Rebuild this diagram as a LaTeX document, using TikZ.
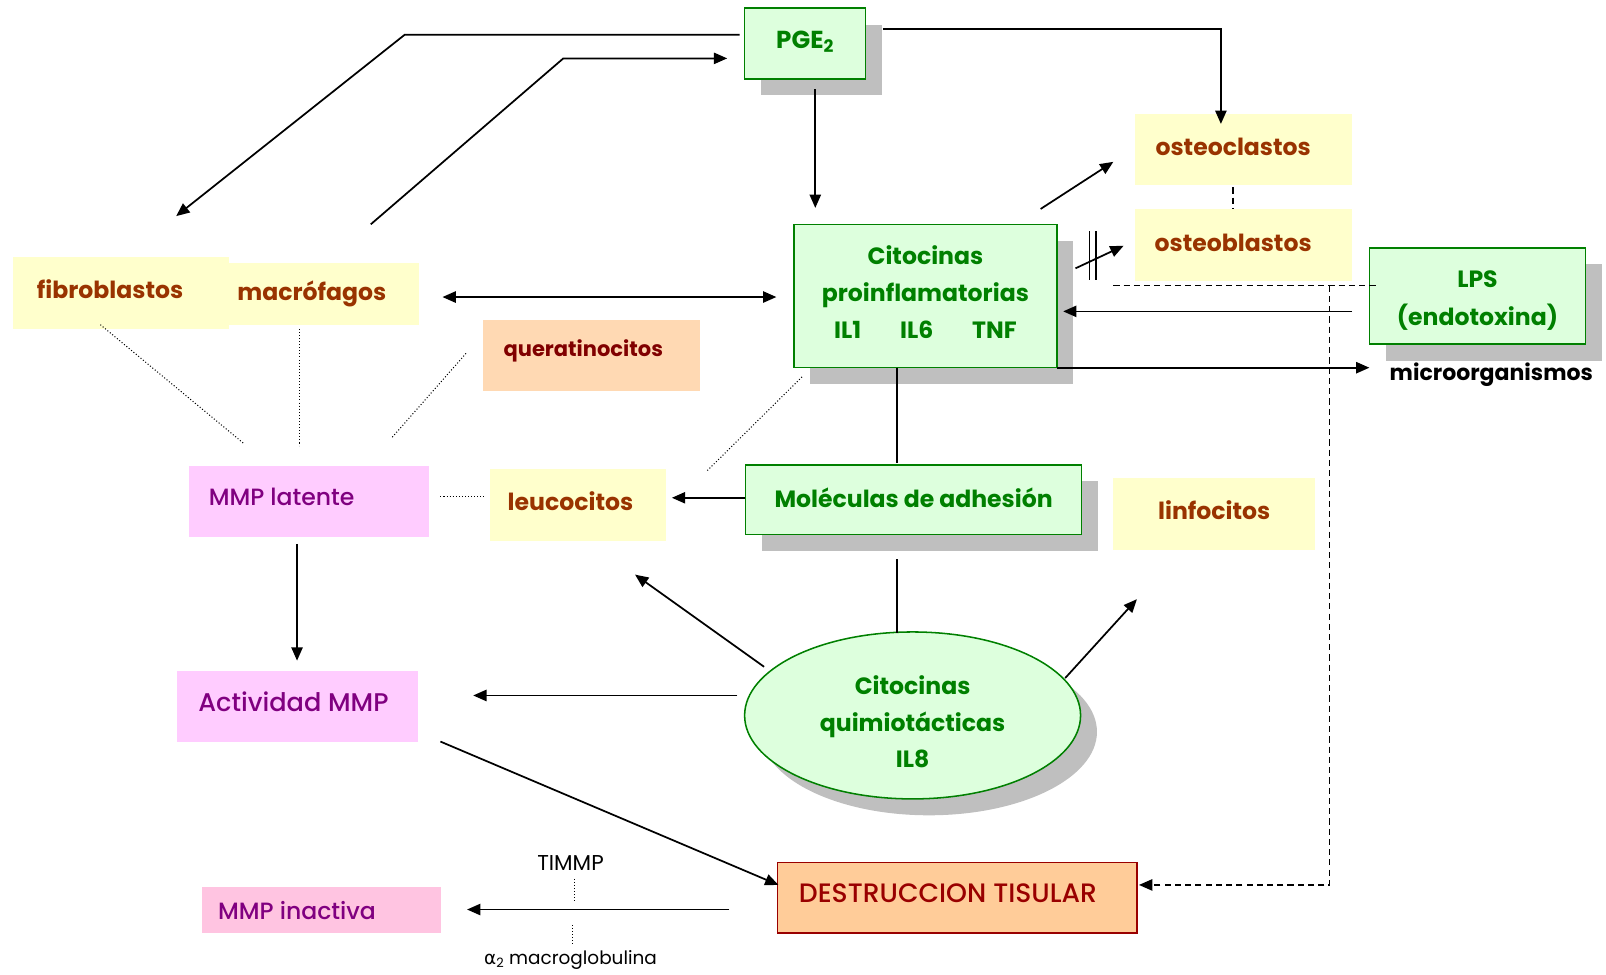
\documentclass[tikz,border=0pt]{standalone}
\usepackage{fontspec}
\setmainfont{Poppins}
\newfontfamily\medfont{Poppins Medium}
\newfontfamily\greekfont{DejaVu Sans}
\usetikzlibrary{arrows.meta,shapes.geometric,shadows}

% move a label up (or down) inside its box without changing the box size
\newcommand\liftby[2]{\raisebox{#1}[\height][\depth]{#2}}

\definecolor{gfill}{HTML}{DDFFDD}
\definecolor{gline}{HTML}{008000}
\definecolor{yfill}{HTML}{FFFFCC}
\definecolor{celltext}{HTML}{993300}
\definecolor{peach}{HTML}{FFD9B3}
\definecolor{peachtext}{HTML}{800000}
\definecolor{mmpfill}{HTML}{FFCCFF}
\definecolor{mmptext}{HTML}{800080}
\definecolor{inactfill}{HTML}{FFC4E1}
\definecolor{destfill}{HTML}{FFCC99}
\definecolor{desttext}{HTML}{990000}

\tikzset{
  sh/.style={drop shadow={shadow xshift=16pt,shadow yshift=-16pt,fill=black!25,opacity=1}},
  greenbox/.style={rectangle,draw=gline,line width=1.5pt,fill=gfill,text=gline,
    font=\bfseries\fontsize{23}{36}\selectfont,align=center,sh},
  cellbox/.style={rectangle,fill=yfill,text=celltext,font=\bfseries\fontsize{23}{26}\selectfont},
  kerbox/.style={rectangle,fill=peach,text=peachtext,font=\bfseries\fontsize{20.5}{24}\selectfont},
  mmpbox/.style={rectangle,fill=mmpfill,text=mmptext,font=\medfont\fontsize{23}{26}\selectfont},
  destbox/.style={rectangle,draw=desttext,line width=1.2pt,fill=destfill,text=desttext,
    font=\medfont\fontsize{26}{29}\selectfont},
  conn/.style={line width=1.7pt,draw=black},
  arr/.style={conn,-{Triangle[length=13pt,width=11pt]}},
  dbl/.style={conn,{Triangle[length=13pt,width=11pt]}-{Triangle[length=13pt,width=11pt]}},
  dots/.style={line width=1pt,dotted},
  dashline/.style={line width=1.4pt,dash pattern=on 6pt off 4pt},
  note/.style={font=\fontsize{18}{20}\selectfont}
}

\begin{document}
\begin{tikzpicture}[x=1pt,y=-1pt]
\useasboundingbox (0,0) rectangle (1568,951);

% ---- boxes ----
\node[greenbox,minimum width=118pt,minimum height=69pt,font=\bfseries\fontsize{24}{28}\selectfont] (pge) at (786,42.5)
  {\liftby{2pt}{PGE\textsubscript{2}}};
\node[greenbox,minimum width=257pt,minimum height=140pt] (cyto) at (903.5,289)
  {\liftby{2pt}{\begin{tabular}{@{}c@{}}Citocinas\\[0pt]proinflamatorias\\[0pt]IL1\hspace{38pt}IL6\hspace{38pt}TNF\end{tabular}}};
\node[greenbox,minimum width=211pt,minimum height=94pt] (lps) at (1442.5,289)
  {\liftby{-3pt}{\begin{tabular}{@{}c@{}}LPS\\[1pt](endotoxina)\end{tabular}}};
\node[greenbox,minimum width=328pt,minimum height=68pt] (adh) at (892,488)
  {\liftby{2pt}{Moléculas de adhesión}};
\node[greenbox,ellipse,minimum width=328pt,minimum height=163pt] (quim) at (891,698.5)
  {\liftby{-8pt}{\begin{tabular}{@{}c@{}}Citocinas\\[0pt]quimiotácticas\\[0pt]IL8\end{tabular}}};

\node[cellbox,minimum width=185pt,minimum height=60pt] (mac) at (316.5,287)
  {\hspace*{-24pt}macrófagos};
\node[cellbox,minimum width=211pt,minimum height=70pt] (fib) at (118.5,286)
  {\hspace*{-22pt}\liftby{4pt}{fibroblastos}};
\node[cellbox,minimum width=212pt,minimum height=70pt] (oclast) at (1214,146)
  {\hspace*{-20pt}\liftby{3pt}{osteoclastos}};
\node[cellbox,minimum width=212pt,minimum height=70pt] (oblast) at (1214,239)
  {\hspace*{-20pt}\liftby{2pt}{osteoblastos}};
\node[cellbox,minimum width=172pt,minimum height=70pt] (leuco) at (564,493)
  {\hspace*{-14pt}\liftby{4pt}{leucocitos}};
\node[cellbox,minimum width=197pt,minimum height=70pt] (linfo) at (1185.5,502)
  {\liftby{4pt}{linfocitos}};
\node[kerbox,minimum width=211pt,minimum height=70pt] (kerat) at (577.5,347)
  {\hspace*{-16pt}\liftby{4pt}{queratinocitos}};

\node[mmpbox,minimum width=234pt,minimum height=69pt] (lat) at (302,489.5)
  {\hspace*{-54pt}\liftby{4pt}{MMP latente}};
\node[mmpbox,minimum width=235pt,minimum height=69pt,font=\medfont\fontsize{25}{28}\selectfont] (act) at (290.5,689.5)
  {\hspace*{-8pt}\liftby{4pt}{Actividad MMP}};
\node[mmpbox,fill=inactfill,minimum width=234pt,minimum height=45pt] (inact) at (314,888.5)
  {\hspace*{-48pt}MMP inactiva};
\node[destbox,minimum width=351pt,minimum height=69pt] (dest) at (934.5,876.5)
  {\hspace*{-18pt}\liftby{4pt}{DESTRUCCION TISULAR}};

\node[font=\bfseries\fontsize{21.5}{24}\selectfont] (micro) at (1456,366) {microorganismos};
\node[note,font=\fontsize{21}{24}\selectfont] (timmp) at (557,843) {TIMMP};
\node[note] (macro) at (557,937) {{\greekfont α}\textsubscript{2} macroglobulina};

% ---- connector end points ----
\coordinate (pgeA) at (722,34);   \coordinate (kA) at (395,34);   \coordinate (fibT) at (172,211);
\coordinate (macS) at (362,219);  \coordinate (kB) at (550,57);   \coordinate (pgeT) at (710,57);
\coordinate (pgeC) at (862,28);   \coordinate (kC) at (1192,28);  \coordinate (ocT) at (1192,121);
\coordinate (pgeD) at (796,87);   \coordinate (cyT) at (796,203);
\coordinate (macR) at (432,290);  \coordinate (cyL) at (758,290);
\coordinate (cyE) at (1016,204);  \coordinate (ocL) at (1087,158);
\coordinate (cyF) at (1050,262);  \coordinate (obL) at (1097,240);
\coordinate (barA1) at (1064,226); \coordinate (barA2) at (1064,273);
\coordinate (barB1) at (1070,226); \coordinate (barB2) at (1070,273);
\coordinate (lpsS) at (1320,304); \coordinate (cyR) at (1038,304);
\coordinate (cyG) at (1032,359);  \coordinate (micT) at (1337,359);
\coordinate (obD) at (1087,279);  \coordinate (lpsD) at (1345,279);
\coordinate (dA) at (1298,279);   \coordinate (dB) at (1298,864); \coordinate (destT) at (1112,864);
\coordinate (ocB) at (1204,183);  \coordinate (obT) at (1204,204);
\coordinate (cyB) at (876,359);   \coordinate (adT) at (876,452);
\coordinate (adB) at (876,546);   \coordinate (quT) at (876,618);
\coordinate (adL) at (727,486);   \coordinate (leT) at (656,486);
\coordinate (quA) at (746,651);   \coordinate (leU) at (620,561);
\coordinate (quB) at (1040,662);  \coordinate (liT) at (1110,585);
\coordinate (quC) at (720,679);   \coordinate (acT) at (462,679);
\coordinate (laB) at (290,531);   \coordinate (acU) at (290,645);
\coordinate (acS) at (430,724);   \coordinate (deL) at (760,864);
\coordinate (deS) at (712,888);   \coordinate (inT) at (456,888);
\coordinate (fD) at (98,317);     \coordinate (laA) at (238,433);
\coordinate (mD) at (292,321);    \coordinate (laM) at (292,435);
\coordinate (kD) at (455,345);    \coordinate (laK) at (382,428);
\coordinate (laR) at (430,485);   \coordinate (leL) at (474,485);
\coordinate (cyD) at (783,368);   \coordinate (leD) at (690,460);
\coordinate (tA) at (561,858);    \coordinate (tB) at (561,880);
\coordinate (gA) at (559,903);    \coordinate (gB) at (559,922);

% ---- arrows ----
\draw[arr] (pgeA) -- (kA) -- (fibT);
\draw[arr] (macS) -- (kB) -- (pgeT);
\draw[arr] (pgeC) -- (kC) -- (ocT);
\draw[arr] (pgeD) -- (cyT);
\draw[dbl] (macR) -- (cyL);
\draw[arr] (cyE) -- (ocL);
\draw[arr] (cyF) -- (obL);
\draw[conn,line width=1.2pt] (barA1) -- (barA2) (barB1) -- (barB2);
\draw[arr] (lpsS) -- (cyR);
\draw[arr] (cyG) -- (micT);
\draw[dashline] (obD) -- (lpsD);
\draw[dashline,-{Triangle[length=13pt,width=11pt]}] (dA) -- (dB) -- (destT);
\draw[dashline] (ocB) -- (obT);
\draw[conn] (cyB) -- (adT);
\draw[conn] (adB) -- (quT);
\draw[arr] (adL) -- (leT);
\draw[arr] (quA) -- (leU);
\draw[arr] (quB) -- (liT);
\draw[arr] (quC) -- (acT);
\draw[arr] (laB) -- (acU);
\draw[arr] (acS) -- (deL);
\draw[arr] (deS) -- (inT);

% ---- dotted links ----
\draw[dots] (fD) -- (laA);
\draw[dots] (mD) -- (laM);
\draw[dots] (kD) -- (laK);
\draw[dots] (laR) -- (leL);
\draw[dots] (cyD) -- (leD);
\draw[dots] (tA) -- (tB);
\draw[dots] (gA) -- (gB);
\end{tikzpicture}
\end{document}
